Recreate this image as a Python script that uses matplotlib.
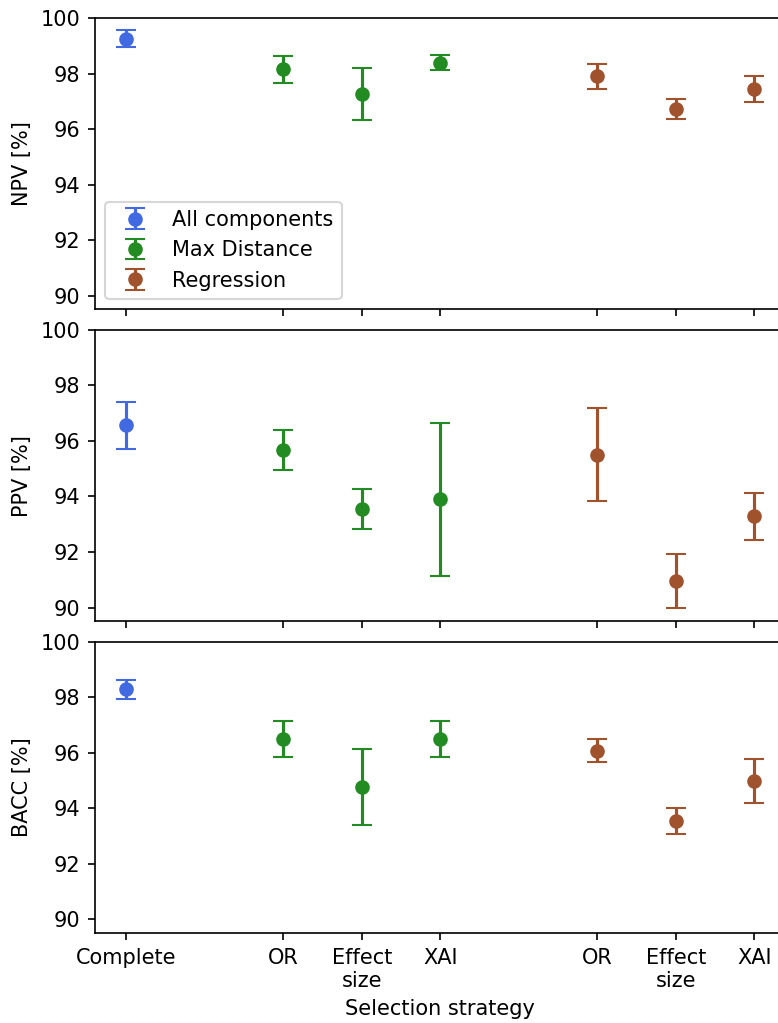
import numpy as np
import matplotlib
matplotlib.use('Agg')
import matplotlib.pyplot as plt

# Tick labels along the x axis (one group per selection method)
tick_labels = ['Complete', 'OR', 'Effect\nsize', 'XAI', 'OR', 'Effect\nsize', 'XAI']
groups = ['All components', 'Max Distance', 'Regression']
group_colors = ['royalblue', 'forestgreen', 'sienna']

# mean values and error (half width) per metric, per group
npv_all = [99.25]
npv_all_err = [0.30]
npv_md = [98.15, 97.26, 98.38]
npv_md_err = [0.48, 0.95, 0.27]
npv_reg = [97.91, 96.72, 97.44]
npv_reg_err = [0.45, 0.36, 0.46]

ppv_all = [96.57]
ppv_all_err = [0.85]
ppv_md = [95.67, 93.54, 93.90]
ppv_md_err = [0.72, 0.72, 2.75]
ppv_reg = [95.51, 90.97, 93.28]
ppv_reg_err = [1.68, 0.97, 0.86]

bacc_all = [98.29]
bacc_all_err = [0.34]
bacc_md = [96.50, 94.76, 96.50]
bacc_md_err = [0.64, 1.37, 0.65]
bacc_reg = [96.08, 93.55, 95.00]
bacc_reg_err = [0.41, 0.48, 0.79]

metrics = ['NPV [%]', 'PPV [%]', 'BACC [%]']
metric_data = [
    [(npv_all, npv_all_err), (npv_md, npv_md_err), (npv_reg, npv_reg_err)],
    [(ppv_all, ppv_all_err), (ppv_md, ppv_md_err), (ppv_reg, ppv_reg_err)],
    [(bacc_all, bacc_all_err), (bacc_md, bacc_md_err), (bacc_reg, bacc_reg_err)],
]

# x positions: one empty slot between groups
x_all = np.array([0])
x_md = np.array([2, 3, 4])
x_reg = np.array([6, 7, 8])
group_x = [x_all, x_md, x_reg]
tick_pos = np.concatenate(group_x)

fig, axes = plt.subplots(3, 1, sharex=True, figsize=(778 / 150, 1023 / 150), dpi=150)
fig.subplots_adjust(left=0.1221, right=1.0098, top=0.9824, bottom=0.0877, hspace=0.070)

for ax, label, data in zip(axes, metrics, metric_data):
    for xs, (vals, errs), name, color in zip(group_x, data, groups, group_colors):
        ax.errorbar(xs, vals, yerr=errs, fmt='o', color=color, capsize=5,
                    markersize=6, label=name)
    ax.set_ylim(89.5, 100)
    ax.set_yticks(np.arange(90, 101, 2))
    ax.set_ylabel(label)

axes[0].legend(loc='lower left')
axes[-1].set_xticks(tick_pos)
axes[-1].set_xticklabels(tick_labels)
axes[-1].set_xlabel('Selection strategy')

fig.savefig('out.png', dpi=150)
